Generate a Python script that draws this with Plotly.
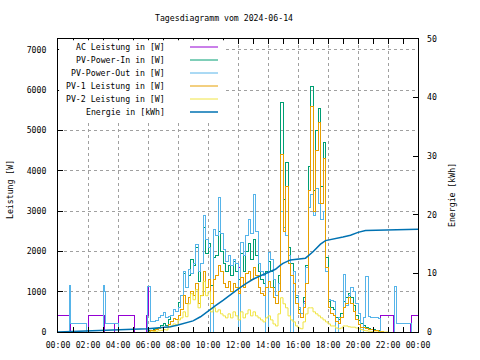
import plotly.graph_objects as go
import pandas as pd

DATE = "2024-06-14"


def ts(hm):
    h, m = map(int, hm.split(":"))
    return pd.Timestamp(DATE) + pd.Timedelta(hours=h, minutes=m)


# ---------------- data ----------------
title_text = "Tagesdiagramm vom 2024-06-14"
legend_labels = ["AC Leistung in [W]", "PV-Power-In in [W]", "PV-Power-Out in [W]",
                 "PV-1 Leistung in [W]", "PV-2 Leistung in [W]", "Energie in [kWh]"]
x_tick_labels = ["00:00", "02:00", "04:00", "06:00", "08:00", "10:00", "12:00",
                 "14:00", "16:00", "18:00", "20:00", "22:00", "00:00"]
x_tick_times = ["00:00", "02:00", "04:00", "06:00", "08:00", "10:00", "12:00",
                "14:00", "16:00", "18:00", "20:00", "22:00", "24:00"]
y_tick_vals = [0, 1000, 2000, 3000, 4000, 5000, 6000, 7000]
y2_tick_vals = [0, 10, 20, 30, 40, 50]

# daytime samples every 10 minutes, 06:00 ... 21:50
day_times = [ts(f"{6 + i // 6:02d}:{(i % 6) * 10:02d}") for i in range(96)]

pv_out_day = [
    1130, 260, 270, 280, 350, 420,
    480, 350, 380, 420, 560, 520,
    620, 900, 1500, 1100, 1550, 1450,
    1700, 2170, 1500, 1700, 2880, 2300,
    2100, 0, 2550, 2400, 3340, 2450,
    2050, 1750, 1900, 1650, 1800, 1700,
    0, 2220, 1900, 2400, 2800, 2450,
    3400, 2500, 1700, 1500, 1400, 0,
    1970, 1800, 1300, 900, 1200, 3000,
    2600, 2400, 1900, 0, 1500, 900,
    600, 450, 700, 1600, 3100, 3400,
    2900, 3550, 3200, 2800, 3000, 1500,
    800, 780, 750, 0, 350, 350,
    1425, 650, 900, 1100, 1000, 700,
    450, 0, 350, 1375, 380, 370,
    360, 350, 340, 0, 0, 0,
]
pv_in_day = [
    30, 40, 60, 80, 120, 150,
    200, 160, 320, 420, 550, 500,
    720, 900, 1450, 1100, 1400, 1800,
    1650, 2100, 1250, 1700, 2600, 1950,
    2200, 1150, 1850, 1900, 2500, 2000,
    1700, 1500, 1650, 1400, 1750, 1500,
    1300, 1950, 1500, 2000, 2200, 1800,
    2300, 1900, 1500, 1300, 1200, 1500,
    1750, 1500, 1100, 900, 1400, 5700,
    3300, 4200, 2100, 1700, 1500, 850,
    550, 450, 850, 1650, 4100, 6100,
    3500, 5000, 5550, 3600, 4700, 1850,
    750, 600, 550, 350, 300, 450,
    750, 850, 950, 850, 650, 400,
    280, 200, 150, 120, 90, 70,
    50, 40, 30, 20, 0, 0,
]
pv1_day = [
    20, 30, 40, 50, 80, 100,
    120, 100, 180, 250, 330, 300,
    400, 550, 900, 700, 850, 1000,
    900, 1200, 700, 900, 1500, 1100,
    1300, 700, 1300, 1400, 1650, 1500,
    1200, 1100, 1250, 1000, 1200, 1100,
    950, 1350, 1100, 1450, 1500, 1300,
    1600, 1400, 1100, 950, 900, 1100,
    1250, 1100, 850, 700, 1000, 4400,
    2500, 3600, 1700, 1400, 1200, 700,
    450, 350, 600, 1200, 3500, 5600,
    3000, 4500, 5200, 3200, 4300, 1600,
    600, 450, 400, 250, 200, 350,
    600, 700, 850, 700, 500, 300,
    180, 120, 100, 80, 60, 50,
    40, 30, 20, 10, 0, 0,
]
pv2_day = [
    0, 0, 10, 20, 30, 40,
    60, 50, 120, 150, 200, 180,
    300, 350, 500, 380, 700, 950,
    800, 1050, 600, 900, 1250, 900,
    1000, 500, 600, 500, 550, 450,
    400, 350, 450, 350, 500, 400,
    300, 500, 350, 450, 550, 400,
    500, 400, 350, 300, 250, 350,
    400, 300, 200, 150, 450, 850,
    700, 600, 400, 300, 250, 150,
    100, 80, 250, 450, 600, 600,
    500, 450, 400, 350, 300, 250,
    200, 150, 150, 100, 80, 100,
    150, 150, 130, 120, 120, 100,
    80, 60, 40, 30, 20, 10,
    0, 0, 0, 0, 0, 0,
]

# night parts (step changes)
out_am_t = ["00:00", "00:45", "00:50", "01:55", "03:00", "03:05", "03:08", "04:00", "05:58"]
out_am_v = [0, 1150, 220, 0, 1150, 1000, 220, 0, 1130]
out_pm_t = ["22:00", "22:25", "22:35", "23:35", "24:00"]
out_pm_v = [0, 1125, 200, 0, 0]

ac_am_t = ["00:00", "00:50", "02:00", "03:05", "03:45", "04:00", "05:05", "05:55"]
ac_am_v = [400, 0, 400, 0, 200, 400, 0, 400]
ac_pm_t = ["21:30", "22:20", "23:30", "23:35", "24:00"]
ac_pm_v = [400, 0, 180, 400, 400]
ac_day_diff = {"12:00": 1600, "16:20": 750}   # where AC shows above PV-Out

energy_t = ["00:00", "00:45", "00:50", "03:00", "05:00", "06:00", "07:00", "07:30",
            "08:00", "08:30", "09:00", "09:30", "10:00", "10:30", "11:00", "11:30",
            "12:00", "12:30", "13:00", "13:30", "14:00", "14:30", "14:50", "15:00",
            "15:30", "16:00", "16:30", "17:00", "17:30", "17:50", "18:30", "19:00",
            "19:30", "20:00", "20:30", "21:00", "22:00", "24:00"]
energy_v = [0, 0.05, 0.15, 0.3, 0.45, 0.55, 0.75, 0.9,
            1.2, 1.5, 1.9, 2.6, 3.6, 4.5, 5.4, 6.4,
            7.3, 8.2, 9.0, 9.6, 10.1, 10.7, 11.4, 11.7,
            12.3, 12.45, 12.6, 13.7, 15.0, 15.6, 15.9, 16.2,
            16.5, 17.0, 17.3, 17.35, 17.45, 17.55]

colors = ["#9400d3", "#009e73", "#56b4e9", "#e69f00", "#f0e442", "#0072b2"]

# ---------------- assemble ----------------
ac_day = list(pv_out_day)
for k, v in ac_day_diff.items():
    ac_day[day_times.index(ts(k))] = v

ac_x = [ts(t) for t in ac_am_t] + day_times[:93] + [ts(t) for t in ac_pm_t]
ac_y = ac_am_v + ac_day[:93] + ac_pm_v
out_x = [ts(t) for t in out_am_t] + day_times + [ts(t) for t in out_pm_t]
out_y = out_am_v + pv_out_day + out_pm_v
in_x = [ts("05:00")] + day_times + [ts("22:00")]
in_y = [0] + pv_in_day + [0]
p1_x = [ts("05:00")] + day_times + [ts("22:00")]
p1_y = [0] + pv1_day + [0]
p2_x = day_times + [ts("22:00")]
p2_y = pv2_day + [0]

fig = go.Figure()
series = [(ac_x, ac_y), (in_x, in_y), (out_x, out_y), (p1_x, p1_y), (p2_x, p2_y)]
for (xs, ys), name, col in zip(series, legend_labels[:5], colors[:5]):
    fig.add_trace(go.Scatter(x=xs, y=ys, name=name, mode="lines",
                             line=dict(color=col, width=1, shape="hv"), yaxis="y"))
fig.add_trace(go.Scatter(x=[ts(t) for t in energy_t], y=energy_v, name=legend_labels[5],
                         mode="lines", line=dict(color=colors[5], width=1.5), yaxis="y2"))

# ---------------- layout ----------------
L, R, T, B = 58, 418, 39, 332
PW, PH = R - L, B - T


def px(xp):
    return (xp - L) / PW


def py(yp):
    return (B - yp) / PH


FONT = "DejaVu Sans Mono"
grid = dict(showgrid=True, gridcolor="#a0a0a0", griddash="3px,3px", gridwidth=1)

fig.update_layout(
    width=480, height=360,
    margin=dict(l=L, r=480 - R, t=T, b=360 - B, autoexpand=False),
    paper_bgcolor="white", plot_bgcolor="white",
    showlegend=False, hovermode=False,
    font=dict(family=FONT, size=8.2, color="black"),
    xaxis=dict(type="date", range=[ts("00:00"), ts("24:00")],
               tickmode="array", tickvals=[ts(t) for t in x_tick_times], ticktext=x_tick_labels,
               ticks="inside", ticklen=5, tickcolor="black", ticklabelstandoff=5,
               showline=True, linecolor="black", linewidth=1, mirror="allticks",
               zeroline=False,
               minor=dict(dtick=3600000, tick0=ts("00:00"), ticks="inside", ticklen=3,
                          tickcolor="black", showgrid=False),
               **grid),
    yaxis=dict(range=[0, 7270], tickmode="array", tickvals=y_tick_vals,
               ticktext=[str(v) for v in y_tick_vals],
               ticks="inside", ticklen=5, tickcolor="black", ticklabelstandoff=9,
               showline=True, linecolor="black", linewidth=1, mirror=True,
               zeroline=False, **grid),
    yaxis2=dict(overlaying="y", side="right", range=[0, 50], tickmode="array",
                tickvals=y2_tick_vals, ticktext=[str(v) for v in y2_tick_vals],
                ticks="inside", ticklen=5, tickcolor="black", ticklabelstandoff=8,
                showgrid=False, zeroline=False, showline=False),
)

shapes = [dict(type="rect", xref="paper", yref="paper", x0=0.003, x1=px(224),
               y0=py(121), y1=0.996, fillcolor="white", line=dict(width=0), layer="above")]
annotations = [
    dict(text=title_text, xref="paper", yref="paper", x=px(224), y=py(18),
         xanchor="center", yanchor="middle", showarrow=False),
    dict(text="Leistung [W]", xref="paper", yref="paper", x=px(10), y=py(190),
         xanchor="center", yanchor="middle", textangle=-90, showarrow=False),
    dict(text="Energie [kWh]", xref="paper", yref="paper", x=px(452), y=py(195),
         xanchor="center", yanchor="middle", textangle=-90, showarrow=False),
]
rows = [47, 60, 73, 86, 99, 112]
for lab, col, r in zip(legend_labels, colors, rows):
    annotations.append(dict(text=lab, xref="paper", yref="paper", x=px(166.5), y=py(r),
                            xanchor="right", yanchor="middle", showarrow=False))
    shapes.append(dict(type="line", xref="paper", yref="paper", x0=px(190), x1=px(218),
                       y0=py(r), y1=py(r), line=dict(color=col, width=1.5 if col == colors[5] else 1),
                       layer="above"))

fig.update_layout(shapes=shapes, annotations=annotations)

post_js = (
    "document.body.style.margin='0px';document.body.style.overflow='hidden';"
    "document.querySelectorAll('.scatterlayer .trace:not(:last-child) path.js-line')"
    ".forEach(function(p){p.style.shapeRendering='crispEdges';});"
)
fig.write_html("out.html", config={"displayModeBar": False, "staticPlot": True},
               post_script=post_js)
